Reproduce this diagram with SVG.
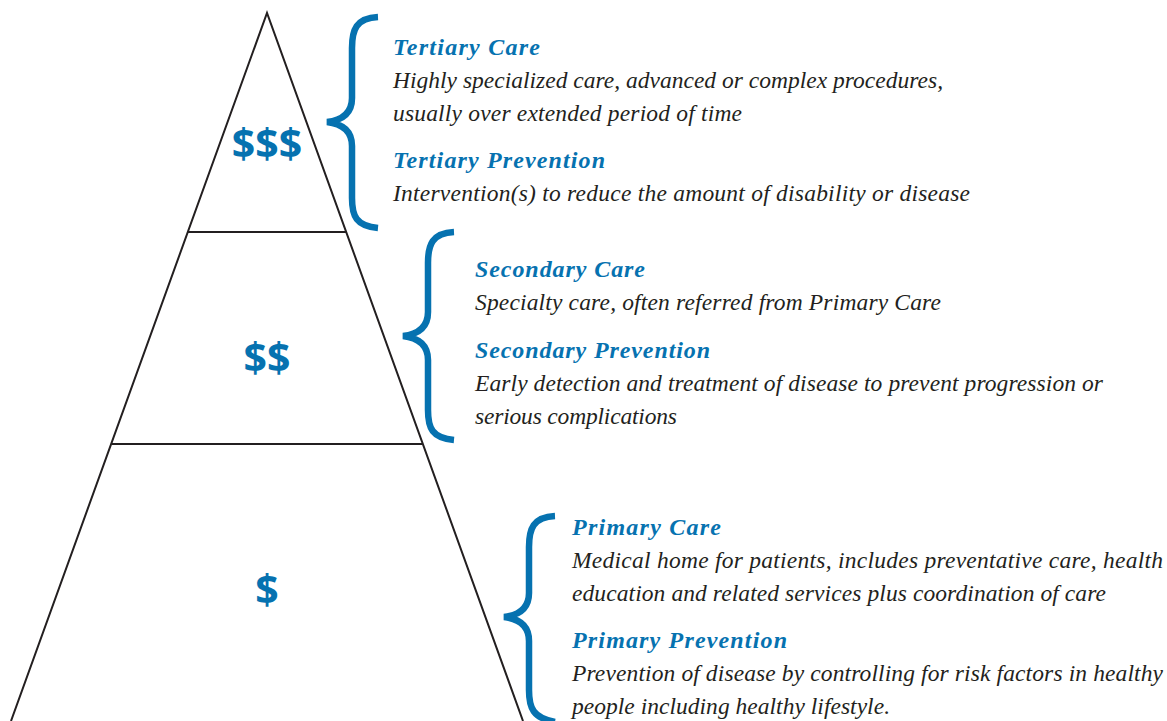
<svg xmlns="http://www.w3.org/2000/svg" width="1167" height="721" viewBox="0 0 1167 721">
  <style>
    .edge { fill: none; stroke: #231f20; stroke-width: 2; }
    .brace { fill: none; stroke: #0672b0; stroke-width: 6.5; }
    .cost { font-family: "Open Sans", "Liberation Sans", sans-serif; font-weight: 700; font-size: 41px; fill: #0672b0; text-anchor: middle; }
    .head { font-family: "Liberation Serif", serif; font-style: italic; font-weight: 700; font-size: 24px; fill: #0672b0; }
    .body { font-family: "Liberation Serif", serif; font-style: italic; font-size: 23.5px; fill: #231f20; }
  </style>
  <rect width="1167" height="721" fill="#ffffff"/>

  <!-- pyramid outline and tier dividers -->
  <g id="pyramid">
    <polyline class="edge" points="11,721 267,13 523,721"/>
    <line class="edge" x1="188" y1="232" x2="346" y2="232"/>
    <line class="edge" x1="112" y1="444" x2="422" y2="444"/>
  </g>

  <!-- cost markers per tier -->
  <g id="tier-top"><text class="cost" x="267" y="158">$$$</text></g>
  <g id="tier-middle"><text class="cost" x="267" y="372">$$</text></g>
  <g id="tier-bottom"><text class="cost" x="267" y="604">$</text></g>

  <!-- braces linking tiers to their descriptions -->
  <g id="connectors">
    <path class="brace" d="M378,17 C356,18 352,30 352,48 L352,98 C352,112 344,120 327,122 C344,124 352,132 352,146 L352,198 C352,216 356,226 378,228"/>
    <path class="brace" d="M454,232 C432,233 428,245 428,263 L428,312 C428,326 420,334 403,336 C420,338 428,346 428,360 L428,410 C428,428 432,438 454,440"/>
    <path class="brace" d="M555,516 C533,517 529,529 529,547 L529,593 C529,607 521,615 504,617 C521,619 529,627 529,641 L529,690 C529,708 533,718 555,722"/>
  </g>

  <g id="tertiary">
    <text class="head" x="393" y="55" textLength="147">Tertiary Care</text>
    <text class="body" x="393" y="88" textLength="550">Highly specialized care, advanced or complex procedures,</text>
    <text class="body" x="393" y="121" textLength="349">usually over extended period of time</text>
    <text class="head" x="393" y="168" textLength="212">Tertiary Prevention</text>
    <text class="body" x="393" y="201" textLength="577">Intervention(s) to reduce the amount of disability or disease</text>
  </g>

  <g id="secondary">
    <text class="head" x="475" y="277" textLength="170">Secondary Care</text>
    <text class="body" x="475" y="310" textLength="466">Specialty care, often referred from Primary Care</text>
    <text class="head" x="475" y="358" textLength="235">Secondary Prevention</text>
    <text class="body" x="475" y="391" textLength="628">Early detection and treatment of disease to prevent progression or</text>
    <text class="body" x="475" y="424" textLength="202">serious complications</text>
  </g>

  <g id="primary">
    <text class="head" x="572" y="535" textLength="149">Primary Care</text>
    <text class="body" x="572" y="568" textLength="591">Medical home for patients, includes preventative care, health</text>
    <text class="body" x="572" y="601" textLength="534">education and related services plus coordination of care</text>
    <text class="head" x="572" y="648" textLength="215">Primary Prevention</text>
    <text class="body" x="572" y="681" textLength="591">Prevention of disease by controlling for risk factors in healthy</text>
    <text class="body" x="572" y="714" textLength="318">people including healthy lifestyle.</text>
  </g>
</svg>
